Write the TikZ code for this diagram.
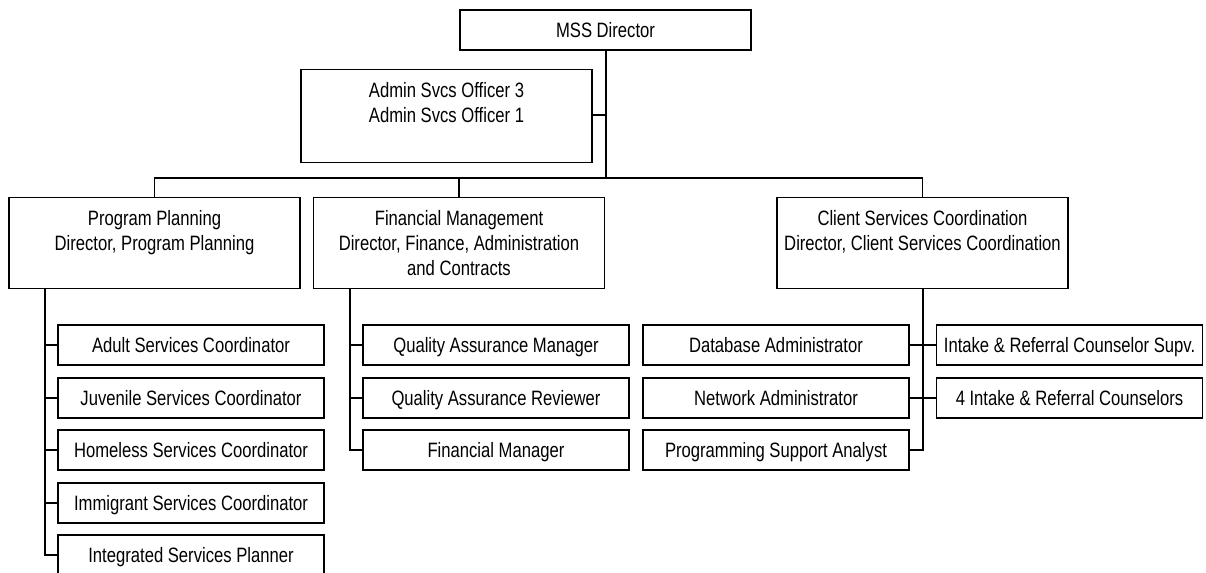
\documentclass[tikz,border=0pt]{standalone}
\usepackage{fontspec}
\setmainfont{Liberation Sans}[FakeStretch=0.8]
\begin{document}
\begin{tikzpicture}[x=0.75pt,y=-0.75pt,
  orgfont/.style={font=\fontsize{15.6pt}{18.75pt}\selectfont},
  unitbox/.style={draw, line width=0.85pt, inner sep=0pt, orgfont,
    minimum width=218.25pt, align=center},
  twoline/.style={unitbox, anchor=north, text height=39.75pt, text depth=28.5pt},
  threeline/.style={unitbox, anchor=north, text height=58.5pt, text depth=9.75pt},
  rolebox/.style={draw, line width=0.85pt, inner sep=0pt, orgfont,
    minimum width=199.5pt, minimum height=30pt, text height=11.25pt, text depth=0pt},
  link/.style={line width=0.8pt},
  trunk/.style={line width=1.5pt},
]
\useasboundingbox (0,0) rectangle (1206,573);
\clip (0,0) rectangle (1206,573);

% top level
\node[unitbox, minimum height=30pt, text height=11.25pt, text depth=0pt] (mss) at (605.5,30) {MSS Director};
\node[twoline, text depth=30pt] (admin) at (446.5,69) {Admin Svcs Officer 3\\Admin Svcs Officer 1};

% divisions
\node[twoline] (pp) at (154.5,197) {Program Planning\\Director, Program Planning};
\node[threeline] (fm) at (459,197) {Financial Management\\Director, Finance, Administration\\and Contracts};
\node[twoline] (cs) at (922.5,197) {Client Services Coordination\\Director, Client Services Coordination};

% Program Planning staff
\node[rolebox] (pp1) at (191,345) {Adult Services Coordinator};
\node[rolebox] (pp2) at (191,398) {Juvenile Services Coordinator};
\node[rolebox] (pp3) at (191,450) {Homeless Services Coordinator};
\node[rolebox] (pp4) at (191,503) {Immigrant Services Coordinator};
\node[rolebox] (pp5) at (191,555) {Integrated Services Planner};

% Financial Management staff
\node[rolebox] (fm1) at (496,345) {Quality Assurance Manager};
\node[rolebox] (fm2) at (496,398) {Quality Assurance Reviewer};
\node[rolebox] (fm3) at (496,450) {Financial Manager};

% Client Services Coordination staff
\node[rolebox] (cs1) at (776,345) {Database Administrator};
\node[rolebox] (cs2) at (776,398) {Network Administrator};
\node[rolebox] (cs3) at (776,450) {Programming Support Analyst};
\node[rolebox] (cs4) at (1069.5,345) {Intake \& Referral Counselor Supv.};
\node[rolebox] (cs5) at (1069.5,398) {4 Intake \& Referral Counselors};

% junction points
\coordinate (top) at (606,50);
\coordinate (adm) at (606,115);
\coordinate (bus) at (606,178);
\coordinate (ppx) at (45,0);
\coordinate (fmx) at (350,0);

% director and assistants
\draw[trunk] (top) -- (adm);
\draw[link] (admin.east |- adm) -- (adm) -- (bus);
\draw[link] (pp.north) |- (bus) -| (cs.north);
\draw[link] (fm.north) -- (fm.north |- bus);

% Program Planning spine
\draw[line width=1.1pt] (pp.south -| ppx) |- (pp5.west);
\foreach \n in {pp1,pp2,pp3,pp4} \draw[link] (\n.west) -- (\n.west -| ppx);

% Financial Management spine
\draw[link] (fm.south -| fmx) |- (fm3.west);
\foreach \n in {fm1,fm2} \draw[link] (\n.west) -- (\n.west -| fmx);

% Client Services spine
\draw[trunk] (cs.south) |- (cs3.east);
\draw[link] (cs1.east) -- (cs4.west);
\draw[link] (cs2.east) -- (cs5.west);
\end{tikzpicture}
\end{document}
